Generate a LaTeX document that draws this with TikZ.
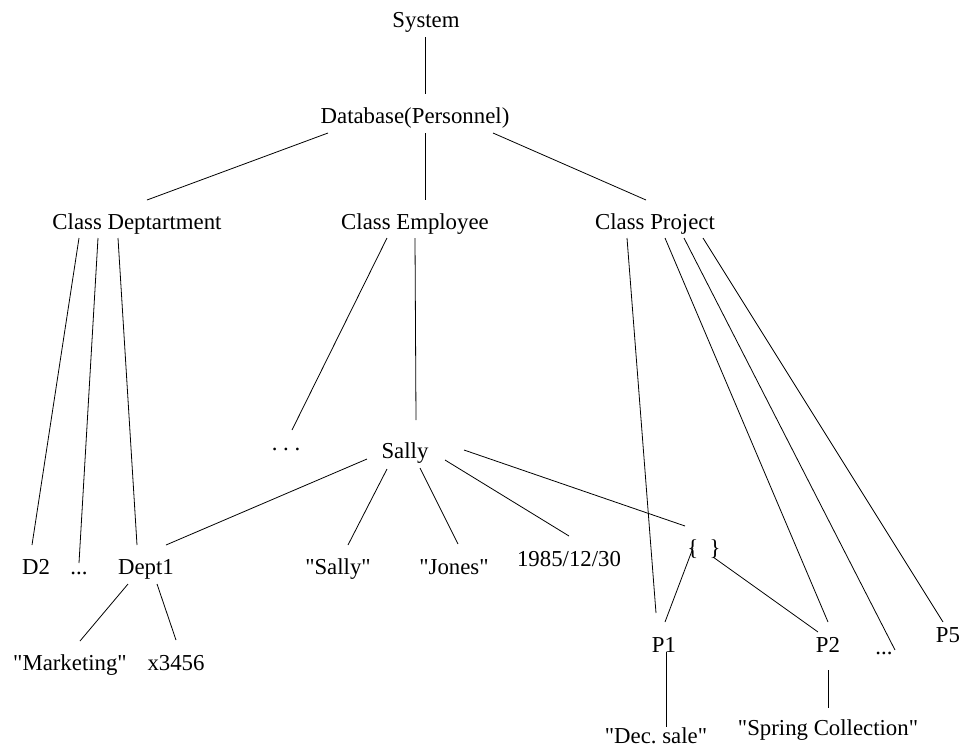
\documentclass[tikz,border=0pt]{standalone}
\usepackage{fontspec}
\setmainfont{Liberation Serif}[Ligatures=TeXOff]
\begin{document}
\begin{tikzpicture}[x=1pt,y=-1pt,
  lbl/.style={inner sep=0pt,anchor=base,font=\fontsize{22.8}{27}\selectfont},
  conn/.style={line width=0.8pt}]
\useasboundingbox (0,0) rectangle (959,748);
% nodes
\node[lbl] (sys) at (426,27) {System};
\node[lbl] (db) at (415,123) {Database(Personnel)};
\node[lbl] (cd) at (137,229) {Class Deptartment};
\node[lbl] (ce) at (415,229) {Class Employee};
\node[lbl] (cp) at (655,229) {Class Project};
\node[lbl] (dots1) at (286,450) {.\ .\ .};
\node[lbl] (sally) at (405,458) {Sally};
\node[lbl] (d2) at (36,574) {D2};
\node[lbl] (dd) at (79,574) {...};
\node[lbl] (dept1) at (146,574) {Dept1};
\node[lbl] (qs) at (338,574) {"Sally"};
\node[lbl] (qj) at (454,574) {"Jones"};
\node[lbl] (date) at (569,566) {1985/12/30};
\node[lbl] (set) at (704,555) {\{\ \ \}};
\node[lbl] (mk) at (70,670) {"Marketing"};
\node[lbl] (x3) at (176,670) {x3456};
\node[lbl] (p1) at (664,652) {P1};
\node[lbl] (p2) at (828,652) {P2};
\node[lbl] (pd) at (884,654) {...};
\node[lbl] (p5) at (948,642) {P5};
\node[lbl] (dec) at (656,743) {"Dec.\ sale"};
\node[lbl] (spr) at (828,735) {"Spring Collection"};
% connectors
\draw[conn] ([shift={(-1,10)}]sys.base) -- ([shift={(10,-29)}]db.base);
\draw[conn] ([shift={(-87,10)}]db.base) -- ([shift={(10,-29)}]cd.base);
\draw[conn] ([shift={(10,10)}]db.base) -- ([shift={(10,-29)}]ce.base);
\draw[conn] ([shift={(78,10)}]db.base) -- ([shift={(-9,-29)}]cp.base);
\draw[conn] ([shift={(-58,9)}]cd.base) -- ([shift={(-4,-29)}]d2.base);
\draw[conn] ([shift={(-39,9)}]cd.base) -- ([shift={(0,-11)}]dd.base);
\draw[conn] ([shift={(-19,9)}]cd.base) -- ([shift={(-9,-29)}]dept1.base);
\draw[conn] ([shift={(-28,9)}]ce.base) -- ([shift={(6,-20)}]dots1.base);
\draw[conn] ([shift={(0,9)}]ce.base) -- ([shift={(11,-38)}]sally.base);
\draw[conn] ([shift={(-38,1)}]sally.base) -- ([shift={(20,-29)}]dept1.base);
\draw[conn] ([shift={(-18,11)}]sally.base) -- ([shift={(10,-29)}]qs.base);
\draw[conn] ([shift={(15,10)}]sally.base) -- ([shift={(4,-30)}]qj.base);
\draw[conn] ([shift={(40,2)}]sally.base) -- ([shift={(0,-30)}]date.base);
\draw[conn] ([shift={(59,-8)}]sally.base) -- ([shift={(-19,-29)}]set.base);
\draw[conn] ([shift={(-28,9)}]cp.base) -- ([shift={(-8,-39)}]p1.base);
\draw[conn] ([shift={(10,9)}]cp.base) -- ([shift={(0,-30)}]p2.base);
\draw[conn] ([shift={(29,9)}]cp.base) -- ([shift={(11,-4)}]pd.base);
\draw[conn] ([shift={(48,9)}]cp.base) -- ([shift={(-5,-20)}]p5.base);
\draw[conn] ([shift={(-11,-7)}]set.base) -- ([shift={(1,-30)}]p1.base);
\draw[conn] ([shift={(9,2)}]set.base) -- ([shift={(-10,-20)}]p2.base);
\draw[conn] ([shift={(-18,10)}]dept1.base) -- ([shift={(10,-29)}]mk.base);
\draw[conn] ([shift={(11,10)}]dept1.base) -- ([shift={(0,-30)}]x3.base);
\draw[conn] ([shift={(2,0)}]p1.base) -- ([shift={(10,-16)}]dec.base);
\draw[conn] ([shift={(0,18)}]p2.base) -- ([shift={(0,-27)}]spr.base);
\end{tikzpicture}
\end{document}
